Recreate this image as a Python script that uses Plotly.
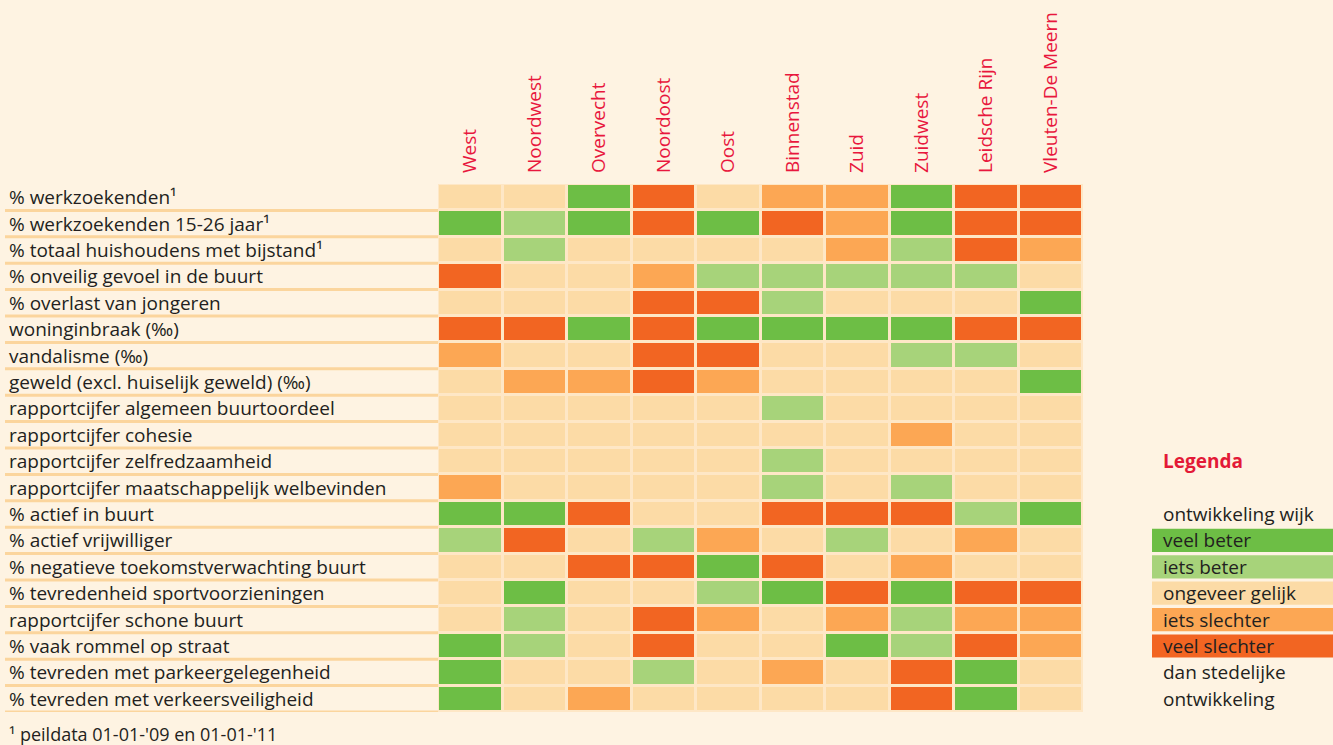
import plotly.graph_objects as go

districts = ["West", "Noordwest", "Overvecht", "Noordoost", "Oost", "Binnenstad",
             "Zuid", "Zuidwest", "Leidsche Rijn", "Vleuten-De Meern"]

indicators = [
    "% werkzoekenden¹",
    "% werkzoekenden 15-26 jaar¹",
    "% totaal huishoudens met bijstand¹",
    "% onveilig gevoel in de buurt",
    "% overlast van jongeren",
    "woninginbraak (‰)",
    "vandalisme (‰)",
    "geweld (excl. huiselijk geweld) (‰)",
    "rapportcijfer algemeen buurtoordeel",
    "rapportcijfer cohesie",
    "rapportcijfer zelfredzaamheid",
    "rapportcijfer maatschappelijk welbevinden",
    "% actief in buurt",
    "% actief vrijwilliger",
    "% negatieve toekomstverwachting buurt",
    "% tevredenheid sportvoorzieningen",
    "rapportcijfer schone buurt",
    "% vaak rommel op straat",
    "% tevreden met parkeergelegenheid",
    "% tevreden met verkeersveiligheid",
]

# 2 = veel beter, 1 = iets beter, 0 = ongeveer gelijk, -1 = iets slechter, -2 = veel slechter
scores = [
    [0, 0, 2, -2, 0, -1, -1, 2, -2, -2],
    [2, 1, 2, -2, 2, -2, -1, 2, -2, -2],
    [0, 1, 0, 0, 0, 0, -1, 1, -2, -1],
    [-2, 0, 0, -1, 1, 1, 1, 1, 1, 0],
    [0, 0, 0, -2, -2, 1, 0, 0, 0, 2],
    [-2, -2, 2, -2, 2, 2, 2, 2, -2, -2],
    [-1, 0, 0, -2, -2, 0, 0, 1, 1, 0],
    [0, -1, -1, -2, -1, 0, 0, 0, 0, 2],
    [0, 0, 0, 0, 0, 1, 0, 0, 0, 0],
    [0, 0, 0, 0, 0, 0, 0, -1, 0, 0],
    [0, 0, 0, 0, 0, 1, 0, 0, 0, 0],
    [-1, 0, 0, 0, 0, 1, 0, 1, 0, 0],
    [2, 2, -2, 0, 0, -2, -2, -2, 1, 2],
    [1, -2, 0, 1, -1, 0, 1, 0, -1, 0],
    [0, 0, -2, -2, 2, -2, 0, -1, 0, 0],
    [0, 2, 0, 0, 1, 2, -2, 2, -2, -2],
    [0, 1, 0, -2, -1, 0, -1, 1, -1, -1],
    [2, 1, 0, -2, 0, 0, 2, 1, -2, -1],
    [2, 0, 0, 1, 0, -1, 0, -2, 2, 0],
    [2, 0, -1, 0, 0, 0, 0, -2, 2, 0],
]

legend_labels = ["veel beter", "iets beter", "ongeveer gelijk", "iets slechter", "veel slechter"]
legend_scores = [2, 1, 0, -1, -2]

colors = {-2: "#f26522", -1: "#fca754", 0: "#fcdba6", 1: "#a7d37a", 2: "#6dbe45"}

W, H = 1333, 745
L, R, T, B = 438, 250, 181, 33
pw = W - L - R
ph = H - T - B

def px2x(p):
    return (p - L) / pw

def py2y(p):
    return (H - B - p) / ph

FONT = "Open Sans"
FS = 19
TXT = "#231f20"
RED = "#e8173d"
BG = "#fef3e2"

nrows = len(indicators)
fig = go.Figure()
fig.add_trace(go.Heatmap(
    z=scores,
    x=list(range(len(districts))),
    y=list(range(nrows)),
    zmin=-2, zmax=2,
    colorscale=[[0, colors[-2]], [0.25, colors[-1]], [0.5, colors[0]],
                [0.75, colors[1]], [1, colors[2]]],
    showscale=False,
    xgap=3, ygap=3,
    hoverinfo="skip",
))

shapes = []
annotations = []
for i, lab in enumerate(indicators):
    annotations.append(dict(x=px2x(7), y=i, xref="paper", yref="y", text=lab,
                            showarrow=False, xanchor="left", yanchor="middle",
                            font=dict(family=FONT, size=FS, color=TXT)))
    shapes.append(dict(type="line", xref="paper", yref="y", x0=px2x(5), x1=0,
                       y0=i + 0.5, y1=i + 0.5,
                       line=dict(color="#fbd59d", width=3)))

# legend
lx = px2x(1161)
def legend_text(txt, yy, bold=False, color=TXT):
    annotations.append(dict(x=lx, y=yy, xref="paper", yref="y",
                            text=f"<b>{txt}</b>" if bold else txt,
                            showarrow=False, xanchor="left", yanchor="middle",
                            font=dict(family=FONT, size=FS, color=color)))

legend_text("Legenda", 10, bold=True, color="#e31937")
legend_text("ontwikkeling wijk", 12)
for k, (lab, sc) in enumerate(zip(legend_labels, legend_scores)):
    yy = 13 + k
    shapes.append(dict(type="rect", xref="paper", yref="y", x0=px2x(1152), x1=px2x(1334),
                       y0=yy - 0.44, y1=yy + 0.44, fillcolor=colors[sc],
                       line=dict(width=0), layer="below"))
    legend_text(lab, yy)
legend_text("dan stedelijke", 18)
legend_text("ontwikkeling", 19)

annotations.append(dict(x=px2x(7), y=py2y(748), xref="paper", yref="paper",
                        text="¹ peildata 01-01-'09 en 01-01-'11",
                        showarrow=False, xanchor="left", yanchor="bottom",
                        font=dict(family=FONT, size=18, color=TXT)))

fig.update_layout(
    width=W, height=H,
    margin=dict(l=L, r=R, t=T, b=B),
    paper_bgcolor=BG,
    plot_bgcolor="#fee7c6",
    shapes=shapes,
    annotations=annotations,
    xaxis=dict(side="top", tickmode="array", tickvals=list(range(len(districts))),
               ticktext=districts, tickangle=-90, showgrid=False, zeroline=False,
               range=[-0.5, len(districts) - 0.5], ticks="", ticklabelstandoff=10,
               tickfont=dict(family=FONT, size=19, color=RED)),
    yaxis=dict(range=[nrows - 0.5, -0.5], showticklabels=False, showgrid=False,
               zeroline=False, ticks=""),
)

fig.write_html(
    "out.html",
    config={"displayModeBar": False},
    post_script="document.body.style.margin='0';document.body.style.overflow='hidden';"
                "document.body.style.background='" + BG + "';",
)
